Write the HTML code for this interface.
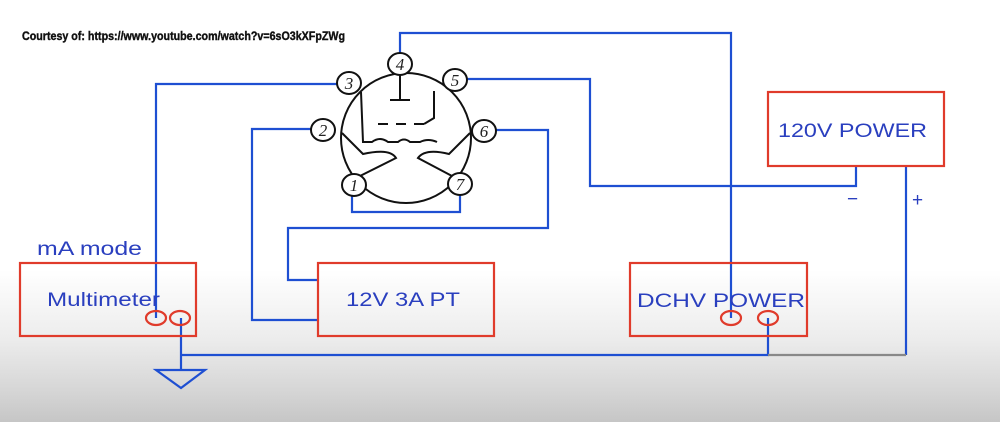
<!DOCTYPE html>
<html><head><style>
html,body{margin:0;padding:0}
body{width:1000px;height:422px;overflow:hidden;background:linear-gradient(to bottom,#fff 0px,#fff 270px,#ececec 340px,#d6d6d6 390px,#c6c6c6 422px);font-family:"Liberation Sans",sans-serif}
svg{position:absolute;left:0;top:0}
</style></head><body>
<svg width="1000" height="422" viewBox="0 0 1000 422">
<text x="22" y="40" font-family="Liberation Sans Narrow, Liberation Sans, sans-serif" font-weight="bold" font-size="12" fill="#111" stroke="#111" stroke-width="0.4" textLength="323" lengthAdjust="spacingAndGlyphs">Courtesy of: https://www.youtube.com/watch?v=6sO3kXFpZWg</text>
<g fill="none" stroke="#1e4fd2" stroke-width="2.2">
<polyline points="400,54 400,33 731,33 731,318"/>
<polyline points="466,79 590,79 590,186 856,186 856,166"/>
<polyline points="338,84 156,84 156,318"/>
<polyline points="311,129 252,129 252,320 318,320"/>
<polyline points="495,130 548,130 548,228 288,228 288,280 318,280"/>
<polyline points="352,190 352,212 460,212 460,190"/>
<polyline points="181,318 181,370"/>
<polyline points="181,355 768,355 768,318"/>
<polyline points="906,166 906,355"/>
<polygon points="156,370 205,370 181,388"/>
</g>
<line x1="768" y1="355" x2="906" y2="355" stroke="#888" stroke-width="2.2"/>
<g fill="none" stroke="#111" stroke-width="2">
<circle cx="406" cy="138" r="65"/>
<ellipse cx="349" cy="83" rx="12" ry="11" fill="#fff"/>
<ellipse cx="400" cy="64" rx="12" ry="11" fill="#fff"/>
<ellipse cx="455" cy="80" rx="12" ry="11" fill="#fff"/>
<ellipse cx="323" cy="130" rx="12" ry="11" fill="#fff"/>
<ellipse cx="484" cy="131" rx="12" ry="11" fill="#fff"/>
<ellipse cx="354" cy="185" rx="12" ry="11" fill="#fff"/>
<ellipse cx="460" cy="184" rx="12" ry="11" fill="#fff"/>
<line x1="400" y1="75" x2="400" y2="100"/>
<line x1="390" y1="100" x2="410" y2="100"/>
<path d="M378,124 h10 M396,124 h10 M414,124 h10 M424,124 L434,118 L434,91"/>
<path d="M361,92 L363,142 L372,142 Q380,136 388,142 L398,142 Q404,137 410,142 L420,142 Q428,138 437,142"/>
<path d="M342,133 L363,154 Q390,148 396,158 L360,176"/>
<path d="M470,133 L449,154 Q425,148 418,158 L452,176"/>
</g>
<g font-family="Liberation Serif, serif" font-style="italic" font-size="17" fill="#222" text-anchor="middle">
<text x="349" y="89">3</text><text x="400" y="70">4</text><text x="455" y="86">5</text>
<text x="323" y="136">2</text><text x="484" y="137">6</text><text x="354" y="191">1</text><text x="460" y="190">7</text>
</g>
<g fill="none" stroke="#e03b2b" stroke-width="2.2">
<rect x="20" y="263" width="176" height="73"/>
<rect x="318" y="263" width="176" height="73"/>
<rect x="630" y="263" width="177" height="73"/>
<rect x="768" y="92" width="176" height="74"/>
<ellipse cx="156" cy="318" rx="10" ry="7"/>
<ellipse cx="180" cy="318" rx="10" ry="7"/>
<ellipse cx="731" cy="318" rx="10" ry="7"/>
<ellipse cx="768" cy="318" rx="10" ry="7"/>
</g>
<g fill="#2a3fbf" font-size="19">
<text x="37" y="255" textLength="105" lengthAdjust="spacingAndGlyphs">mA mode</text>
<text x="47" y="306" textLength="113" lengthAdjust="spacingAndGlyphs">Multimeter</text>
<text x="346" y="306" textLength="114" lengthAdjust="spacingAndGlyphs">12V 3A PT</text>
<text x="637" y="307" textLength="168" lengthAdjust="spacingAndGlyphs">DCHV  POWER</text>
<text x="778" y="137" textLength="149" lengthAdjust="spacingAndGlyphs">120V POWER</text>
<text x="847" y="205">−</text>
<text x="912" y="206">+</text>
</g>
</svg>
</body></html>
